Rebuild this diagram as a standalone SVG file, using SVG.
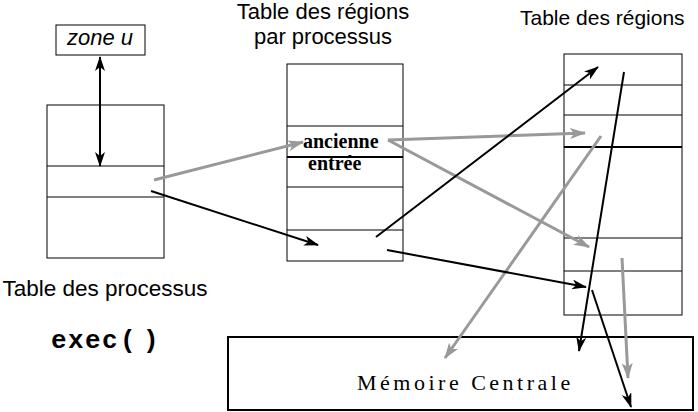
<svg xmlns="http://www.w3.org/2000/svg" width="698" height="412" viewBox="0 0 698 412">
<style>
.box{fill:none;stroke:#000;stroke-width:1}
.thick{stroke:#000;stroke-width:2}
.thin{stroke:#000;stroke-width:1}
.sans{font-family:"Liberation Sans",Arial,sans-serif;fill:#000}
.bold{font-family:"Liberation Serif","Times New Roman",serif;font-weight:bold;font-size:20px;fill:#000}
.gray{stroke:#999;stroke-width:3;fill:none;marker-end:url(#ag)}
.black{stroke:#000;stroke-width:2;fill:none;marker-end:url(#ab)}
</style>
<defs>
<marker id="ab" markerUnits="userSpaceOnUse" markerWidth="15" markerHeight="10" refX="14" refY="5" orient="auto-start-reverse">
<path d="M0,0 L15,5 L0,10 L4,5 z" fill="#000"/>
</marker>
<marker id="ag" markerUnits="userSpaceOnUse" markerWidth="16" markerHeight="11" refX="15" refY="5.5" orient="auto">
<path d="M0,0 L16,5.5 L0,11 L4,5.5 z" fill="#999"/>
</marker>
</defs>
<rect width="698" height="412" fill="#fff"/>

<g id="zone-u">
<rect class="box" x="56" y="25" width="89" height="30"/>
<text class="sans" x="100" y="45" font-size="22" font-style="italic" text-anchor="middle">zone u</text>
</g>

<g id="table-processus">
<rect class="box" x="47" y="105" width="117" height="153"/>
<line class="thin" x1="47" y1="166" x2="164" y2="166"/>
<line class="thin" x1="47" y1="197" x2="164" y2="197"/>
<text class="sans" x="105" y="296" font-size="22.5" text-anchor="middle">Table des processus</text>
</g>

<g id="exec">
<text x="51 68 85 102 120 143" y="348" font-family="'Liberation Mono','Courier New',monospace" font-weight="bold" font-size="26">exec()</text>
</g>

<g id="table-regions-processus">
<text class="sans" x="323" y="19" font-size="22" text-anchor="middle">Table des régions</text>
<text class="sans" x="323" y="44" font-size="22" text-anchor="middle">par processus</text>
<rect class="box" x="287" y="64" width="116" height="197"/>
<line class="thin" x1="287" y1="126" x2="403" y2="126"/>
<line class="thick" x1="287" y1="157" x2="403" y2="157"/>
<line class="thin" x1="287" y1="187" x2="403" y2="187"/>
<line class="thin" x1="287" y1="230" x2="403" y2="230"/>
<text class="bold" x="303" y="148">ancienne</text>
<text class="bold" x="308" y="170">entrée</text>
</g>

<g id="table-regions">
<text class="sans" x="520" y="25" font-size="21">Table des régions</text>
<rect class="box" x="564" y="54" width="118" height="261"/>
<line class="thin" x1="564" y1="85" x2="682" y2="85"/>
<line class="thin" x1="564" y1="115" x2="682" y2="115"/>
<line class="thick" x1="564" y1="147" x2="682" y2="147"/>
<line class="thin" x1="564" y1="238" x2="682" y2="238"/>
<line class="thin" x1="564" y1="271" x2="682" y2="271"/>
</g>

<g id="memoire-centrale">
<rect x="228" y="337" width="465" height="73" fill="none" stroke="#000" stroke-width="2"/>
<text x="357" y="390" font-family="'Liberation Serif','Times New Roman',serif" font-size="22" letter-spacing="3.5">Mémoire Centrale</text>
</g>

<g id="connectors">
<line stroke="#000" stroke-width="2" x1="100" y1="57" x2="100" y2="166" marker-start="url(#ab)" marker-end="url(#ab)"/>
<line class="gray" x1="154" y1="180" x2="303" y2="142"/>
<line class="gray" x1="388" y1="140" x2="585" y2="133"/>
<line class="gray" x1="388" y1="140" x2="589" y2="247"/>
<line class="gray" x1="601" y1="136" x2="445" y2="358"/>
<line class="gray" x1="622" y1="258" x2="628" y2="378"/>
<line class="black" x1="151" y1="191" x2="318" y2="245"/>
<line class="black" x1="376" y1="237" x2="598" y2="67"/>
<line class="black" x1="387" y1="250" x2="586" y2="287"/>
<line class="black" x1="624" y1="72" x2="579" y2="351"/>
<line class="black" x1="592" y1="290" x2="631" y2="407"/>
</g>
</svg>
